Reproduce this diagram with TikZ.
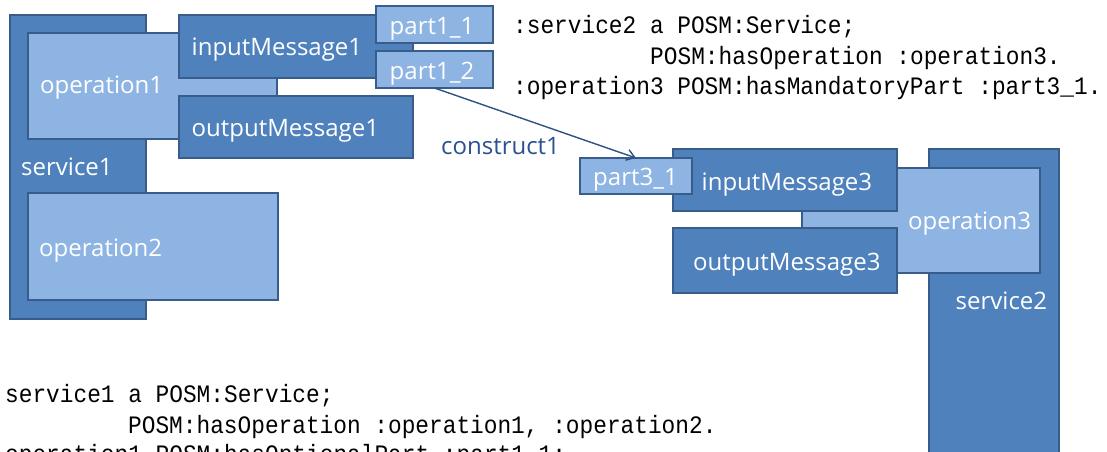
\documentclass[tikz,border=0pt]{standalone}
\usepackage{fontspec}
\usepackage{graphicx}
\usetikzlibrary{arrows.meta}
\newfontfamily\boxfont{Open Sans}
\newfontfamily\codefont{Liberation Mono}
\definecolor{darkfill}{HTML}{4F81BD}
\definecolor{lightfill}{HTML}{8EB4E3}
\definecolor{edgecol}{HTML}{385D8A}
\definecolor{linkcol}{HTML}{2F5283}
\definecolor{labelcol}{HTML}{2A528F}
\tikzset{
  box/.style={draw=edgecol, line width=2.2pt, anchor=north west, inner sep=0pt, outer sep=0pt},
  darkbox/.style={box, fill=darkfill},
  lightbox/.style={box, fill=lightfill},
  boxlabel/.style={anchor=base west, inner sep=0pt, text=white, font=\boxfont\fontsize{24}{28}\selectfont},
  linklabel/.style={anchor=base west, inner sep=0pt, text=labelcol, font=\boxfont\fontsize{24}{28}\selectfont},
  code/.style={anchor=base west, inner sep=0pt, text=black, font=\codefont\fontsize{22.8}{26}\selectfont},
  link/.style={draw=linkcol, line width=1.4pt, -{Straight Barb[length=8pt,width=11pt]}},
}
\newcommand{\tallcode}[1]{\scalebox{1}[1.1]{#1}}
\begin{document}
\begin{tikzpicture}[x=1pt, y=-1pt]
\useasboundingbox (0,0) rectangle (1107,451);
\clip (0,0) rectangle (1107,451);
\fill[white] (0,0) rectangle (1107,451);

% service1 with its operations and messages
\node[darkbox, minimum width=136pt, minimum height=304pt] (s1) at (10,15) {};
\node[lightbox, minimum width=249pt, minimum height=106pt] (op1) at (28,33) {};
\node[lightbox, minimum width=250pt, minimum height=107pt] (op2) at (28,193) {};
\node[darkbox, minimum width=234pt, minimum height=63pt] (im1) at (179,15) {};
\node[darkbox, minimum width=234pt, minimum height=62pt] (om1) at (179,96) {};
\node[lightbox, minimum width=117pt, minimum height=37pt] (p11) at (376,6) {};
\node[lightbox, minimum width=117pt, minimum height=37pt] (p12) at (376,51) {};

\node[boxlabel] (s1t) at (21,175) {service1};
\node[boxlabel] (op1t) at (40,93.3) {operation1};
\node[boxlabel] (op2t) at (39,256.7) {operation2};
\node[boxlabel] (im1t) at (191.5,55) {inputMessage1};
\node[boxlabel] (om1t) at (191.5,136.7) {outputMessage1};
\node[boxlabel] (p11t) at (389.5,34.3) {part1\_1};
\node[boxlabel] (p12t) at (389.5,79) {part1\_2};

% service2 with operation3 and its messages
\node[darkbox, minimum width=130pt, minimum height=320pt] (s2) at (929,149) {};
\node[lightbox, minimum width=238pt, minimum height=105pt] (op3) at (802,168) {};
\node[darkbox, minimum width=224pt, minimum height=62pt] (im3) at (673,149) {};
\node[darkbox, minimum width=224pt, minimum height=65pt] (om3) at (673,228) {};
\node[lightbox, minimum width=112pt, minimum height=36pt] (p31) at (580,158) {};

\node[boxlabel] (s2t) at (955.5,309.3) {service2};
\node[boxlabel] (op3t) at (908,229) {operation3};
\node[boxlabel] (im3t) at (701.5,190) {inputMessage3};
\node[boxlabel] (om3t) at (693,270) {outputMessage3};
\node[boxlabel] (p31t) at (593,185.7) {part3\_1};

% construct linking part1_2 to part3_1
\draw[link] (p12.south) -- (p31.north);
\node[linklabel] (c1t) at (441,154) {construct1};

% Turtle descriptions
\node[code] (t1) at (513,33.3) {\tallcode{:service2 a POSM:Service;}};
\node[code] (t2) at (650,64.3) {\tallcode{POSM:hasOperation :operation3.}};
\node[code] (t3) at (513,94.3) {\tallcode{:operation3 POSM:hasMandatoryPart :part3\_1.}};

\node[code] (b1) at (5,402.3) {\tallcode{service1 a POSM:Service;}};
\node[code] (b2) at (128,433.3) {\tallcode{POSM:hasOperation :operation1, :operation2.}};
\node[code] (b3) at (5,462) {\tallcode{operation1 POSM:hasOptionalPart :part1\_1;}};
\end{tikzpicture}
\end{document}
